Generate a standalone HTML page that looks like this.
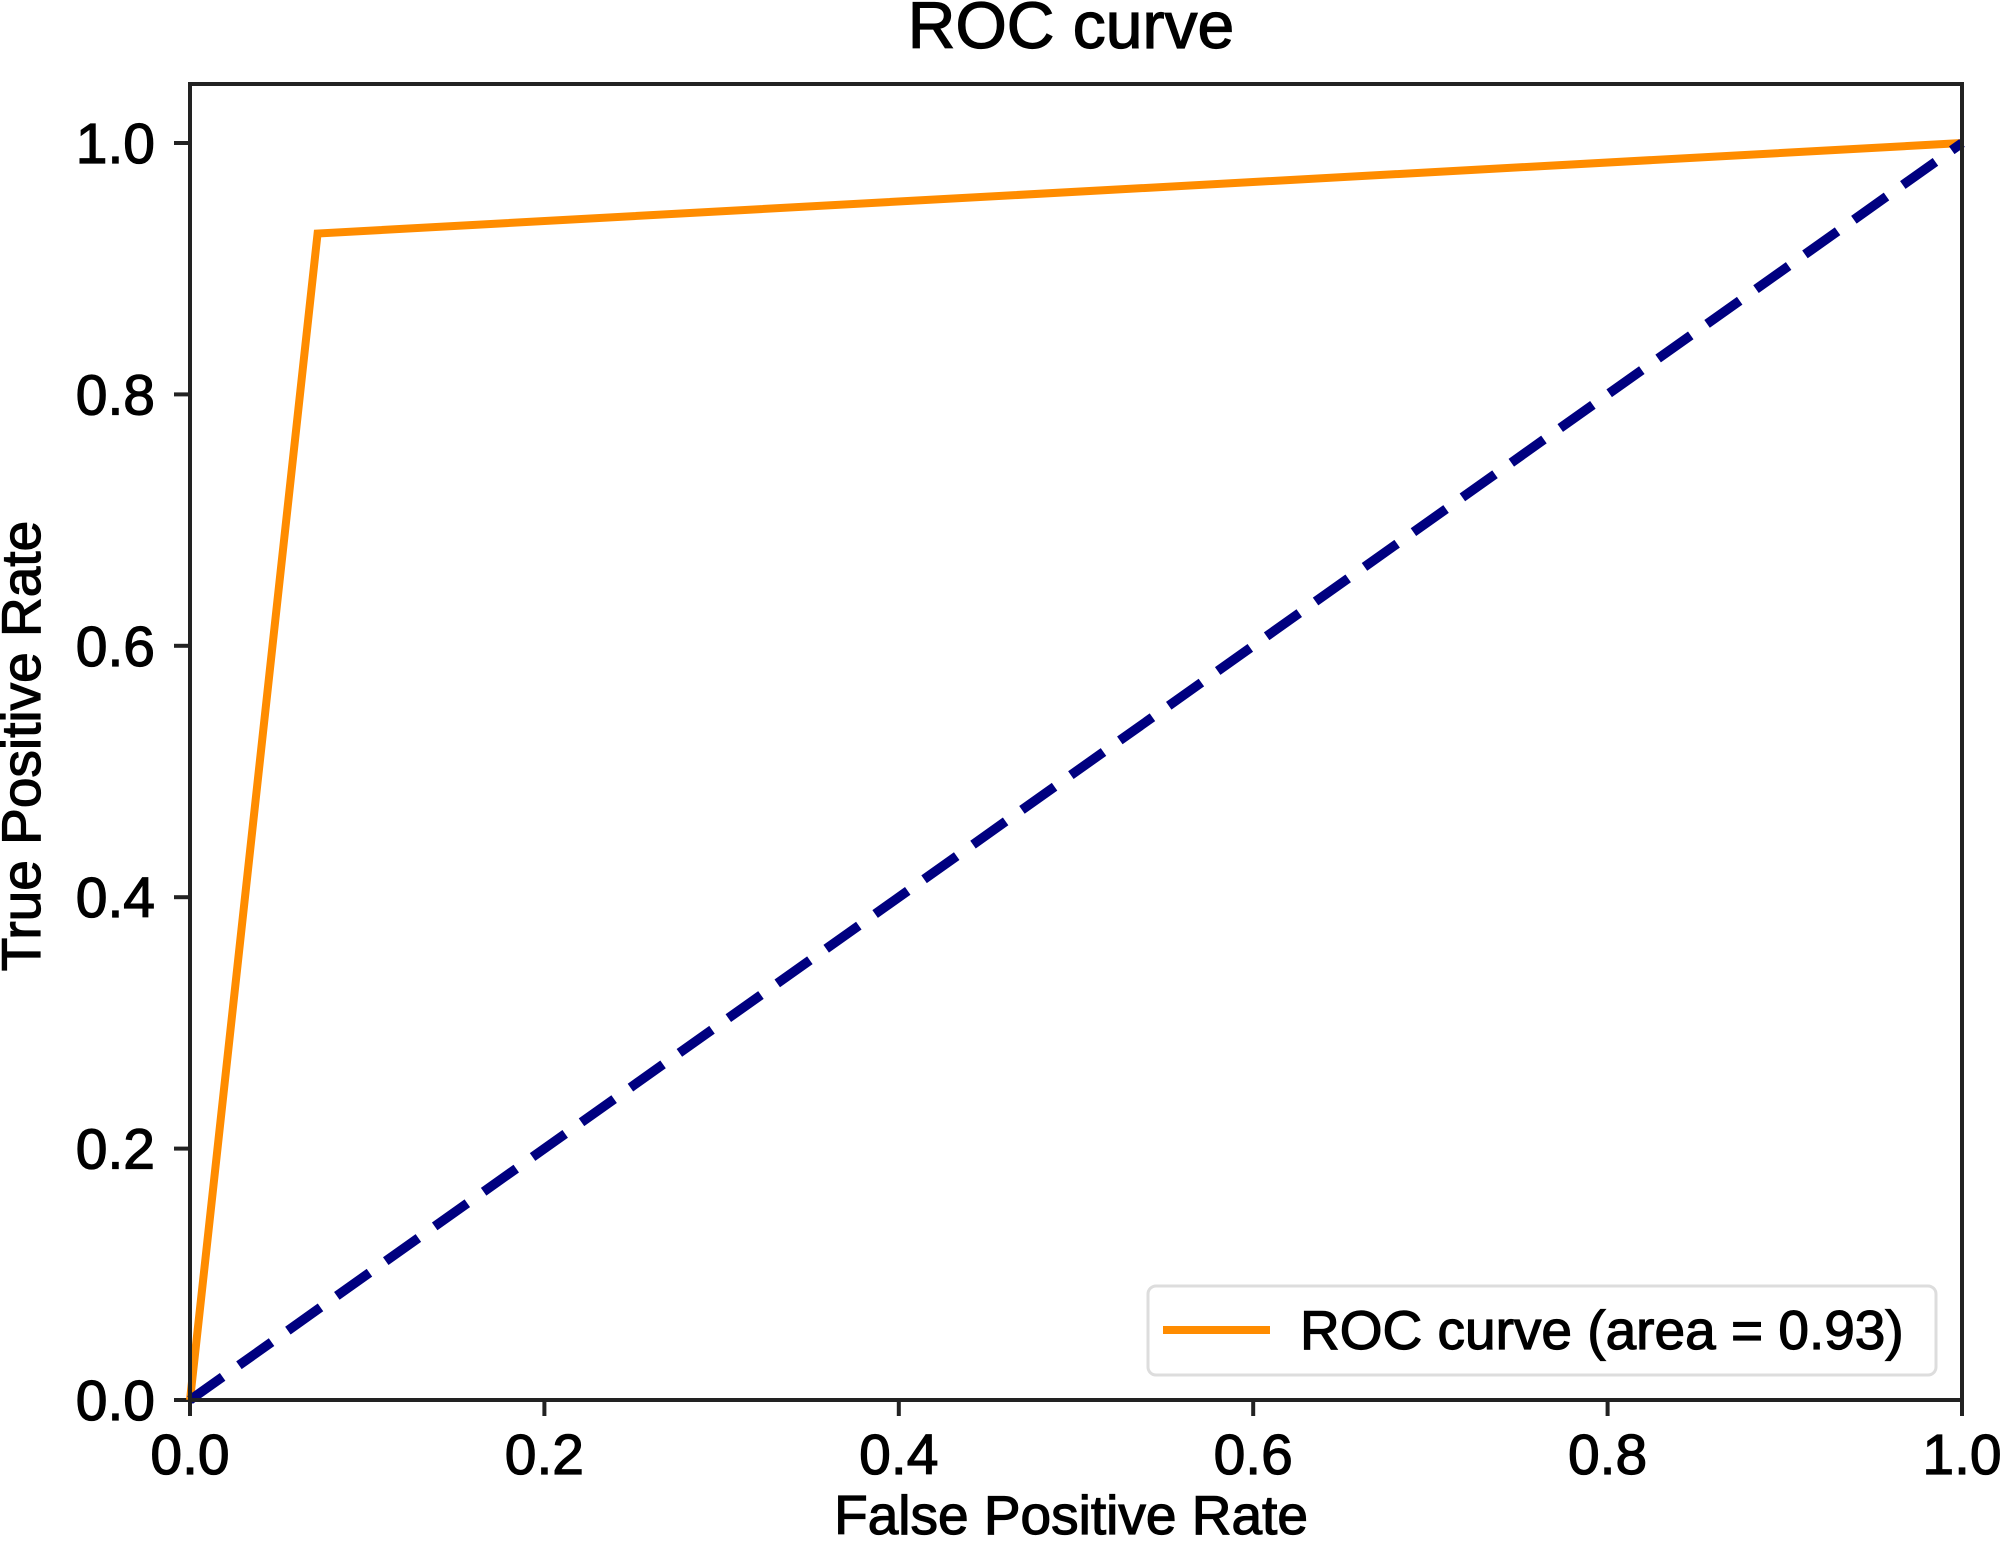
<!DOCTYPE html>
<html><head><meta charset="utf-8"><style>
html,body{margin:0;padding:0;background:#fff;}
svg{display:block;font-family:"Liberation Sans",sans-serif;}
svg text{stroke:#000;stroke-width:1.2;fill:#000;}
</style></head><body>
<svg id="chart" width="2000" height="1545" viewBox="0 0 2000 1545">
<text x="1071" y="48" font-size="66" text-anchor="middle">ROC curve</text>
<g id="plot"></g>
<text x="1071" y="1534" font-size="55" text-anchor="middle">False Positive Rate</text>
<text transform="translate(40,746) rotate(-90)" font-size="55" text-anchor="middle">True Positive Rate</text>
</svg>
<script>
const rocFpr = [0, 0.072, 1];
const rocTpr = [0, 0.928, 1];
const diagX = [0, 1];
const diagY = [0, 1];
const xTicks = [0, 0.2, 0.4, 0.6, 0.8, 1.0];
const yTicks = [0, 0.2, 0.4, 0.6, 0.8, 1.0];
const legendLabel = "ROC curve (area = 0.93)";

const L=190,R=1962,T=84,B=1400,Y1=143;
const sx=v=>L+v*(R-L);
const sy=v=>B-v*(B-Y1);
const NS="http://www.w3.org/2000/svg";
const g=document.getElementById('plot');
function mk(t,a){const e=document.createElementNS(NS,t);for(const k in a)e.setAttribute(k,a[k]);g.appendChild(e);return e;}

xTicks.forEach(v=>{
  const t=mk('line',{x1:sx(v),x2:sx(v),y1:B,y2:B+16,stroke:'#222','stroke-width':4});
  
  
  const l=mk('text',{x:sx(v),y:1474,'font-size':57,'text-anchor':'middle'});
  l.textContent=v.toFixed(1);
  
  
});
yTicks.forEach(v=>{
  const t=mk('line',{x1:L-16,x2:L,y1:sy(v),y2:sy(v),stroke:'#222','stroke-width':4});
  
  
  const l=mk('text',{x:155,y:sy(v)+20,'font-size':57,'text-anchor':'end'});
  l.textContent=v.toFixed(1);
  
  
});

const roc=mk('polyline',{points:rocFpr.map((x,i)=>sx(x)+','+sy(rocTpr[i])).join(' '),fill:'none',stroke:'#ff8c00','stroke-width':8,'stroke-linejoin':'miter'});


const diag=mk('polyline',{points:diagX.map((x,i)=>sx(x)+','+sy(diagY[i])).join(' '),fill:'none',stroke:'#000080','stroke-width':9.5,'stroke-dasharray':'40 20'});



const frame=mk('rect',{x:L,y:T,width:R-L,height:B-T,fill:'none',stroke:'#222','stroke-width':4});



const lb=mk('rect',{x:1148,y:1286,width:788,height:89,rx:8,fill:'#fff','fill-opacity':0.9,stroke:'#ddd','stroke-width':3});


const ll=mk('line',{x1:1163,x2:1270,y1:1330,y2:1330,stroke:'#ff8c00','stroke-width':8});


const lt=mk('text',{x:1300,y:1349,'font-size':55});
lt.textContent=legendLabel;


</script>
</body></html>
